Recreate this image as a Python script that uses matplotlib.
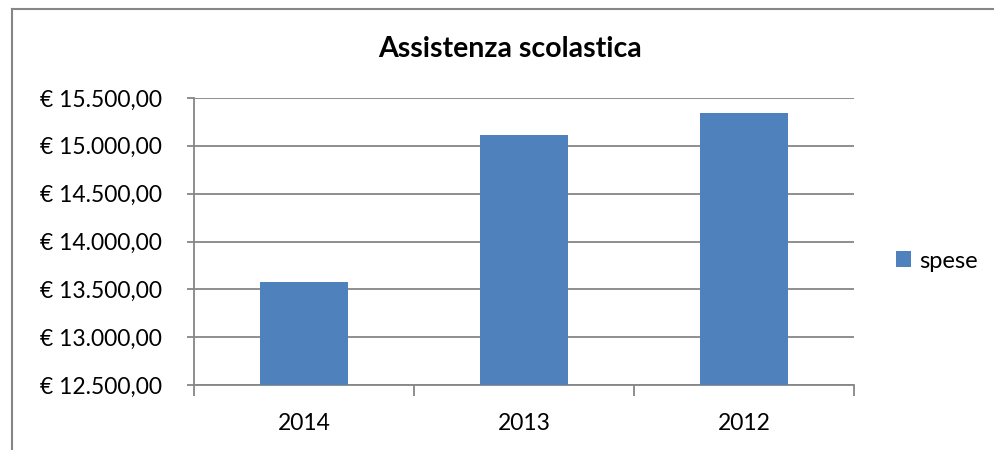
import matplotlib
matplotlib.use("Agg")
import matplotlib.pyplot as plt
from matplotlib.lines import Line2D
from matplotlib.patches import Patch
from matplotlib.ticker import FuncFormatter, MultipleLocator

categories = ["2014", "2013", "2012"]
spese = [13580, 15115, 15344]
series_name = "spese"
title = "Assistenza scolastica"

plt.rcParams['font.family'] = ['Lato', 'DejaVu Sans']

fig = plt.figure(figsize=(9.94, 4.5), dpi=100)
ax = fig.add_axes([194/994, 1-385/450, (854-194)/994, (385-98)/450])

x = list(range(len(categories)))
ax.bar(x, spese, width=0.4, color="#4F81BD", zorder=3)
ax.set_xlim(-0.5, len(categories)-0.5)
ax.set_ylim(12500, 15500)
ax.yaxis.set_major_locator(MultipleLocator(500))

def fmt(v, pos):
    s = f"{v:,.2f}"
    s = s.replace(",", "X").replace(".", ",").replace("X", ".")
    return "€ " + s
ax.yaxis.set_major_formatter(FuncFormatter(fmt))
ax.grid(axis="y", color="#868686", linewidth=1.3, zorder=0)

ax.set_xticks(x)
ax.set_xticklabels(categories)
ax.set_xticks([i - 0.5 for i in range(len(categories)+1)], minor=True)
ax.tick_params(axis="x", which="major", length=0, pad=20, labelsize=16.5)
ax.tick_params(axis="x", which="minor", length=8, width=1.3, color="#868686")
ax.tick_params(axis="y", length=5, width=1.3, color="#868686", labelsize=16.5, pad=18)

for s in ["top", "right"]:
    ax.spines[s].set_visible(False)
for s in ["left", "bottom"]:
    ax.spines[s].set_color("#868686")
    ax.spines[s].set_linewidth(1.3)

fig.text(510/994, 1-57/450, title, ha="center", va="baseline", fontsize=20.5, fontweight="bold")

fig.legend(handles=[Patch(facecolor="#4F81BD", label=series_name)],
           loc="center left", bbox_to_anchor=(896/994, 1-261/450), frameon=False,
           fontsize=17, handlelength=0.65, handleheight=0.65, handletextpad=0.35,
           borderpad=0, borderaxespad=0)

fig.add_artist(Line2D([12/994, 1], [1-9/450, 1-9/450], color="#868686", linewidth=1.5))
fig.add_artist(Line2D([12/994, 12/994], [0, 1-9/450], color="#868686", linewidth=1.5))

fig.savefig("out.png", dpi=100)
